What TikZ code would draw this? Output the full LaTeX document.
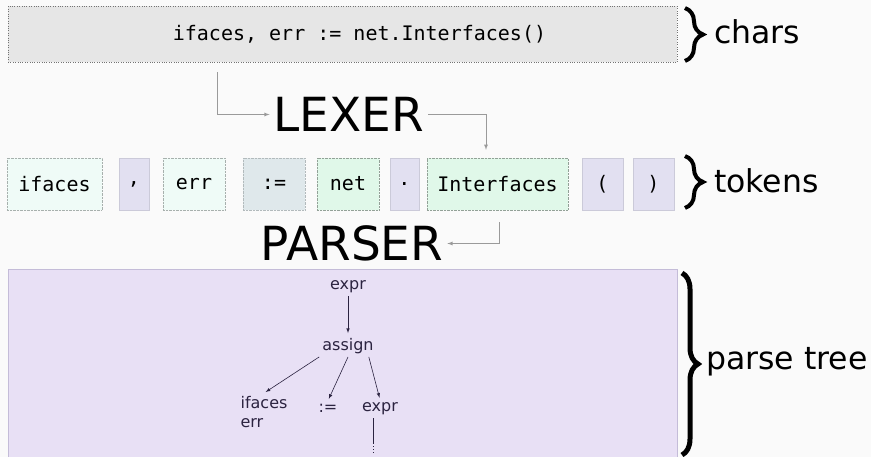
\documentclass[tikz,border=0pt]{standalone}
\usepackage{fontspec}
\setmainfont{DejaVu Sans}
\setmonofont{DejaVu Sans Mono}
\usetikzlibrary{decorations.pathreplacing}

\definecolor{bgcol}{HTML}{FAFAFA}
\definecolor{charfill}{HTML}{E6E6E6}
\definecolor{identfill}{HTML}{EFFBF7}
\definecolor{punctfill}{HTML}{E2E0F1}
\definecolor{opfill}{HTML}{DFE8EB}
\definecolor{namefill}{HTML}{E0F8E9}
\definecolor{treefill}{HTML}{E8E0F5}
\definecolor{treeedge}{HTML}{C4BCD8}
\definecolor{flowgray}{HTML}{9A9A9A}
\definecolor{leafink}{HTML}{2B2340}

\newcommand{\monofont}{\fontsize{20}{24}\selectfont\ttfamily}
\newcommand{\bigfont}{\fontsize{47}{52}\selectfont}
\newcommand{\sidefont}{\fontsize{31.5}{36}\selectfont}
\newcommand{\leaffont}{\fontsize{16}{19}\selectfont}

\newcommand{\drawtoken}{\node[rectangle,minimum height=52pt,inner sep=0pt,font=\monofont]}
\newcommand{\drawleaf}{\node[font=\leaffont,text=leafink,inner sep=3pt]}
\newcommand{\drawside}{\node[font=\sidefont,anchor=base west,inner sep=0pt]}

\begin{document}
\begin{tikzpicture}[x=1pt, y=-1pt, >=latex,
  identtok/.style={fill=identfill, draw=identfill!70!black, densely dotted},
  puncttok/.style={fill=punctfill, draw=punctfill!90!black},
  opertok/.style={fill=opfill, draw=opfill!80!black, densely dotted},
  nametok/.style={fill=namefill, draw=namefill!65!black, densely dotted},
  flow/.style={->, draw=flowgray, line width=0.8pt},
  link/.style={->, draw=leafink, line width=0.6pt, shorten >=2pt},
  curly/.style={decorate, decoration={brace, amplitude=#1}}]
\fill[bgcol] (0,0) rectangle (871,457);
\useasboundingbox (0,0) rectangle (871,457);

%characters
\node[fill=charfill, draw=black!55, dotted, minimum width=669pt, minimum height=56pt,
  inner sep=0pt, font=\monofont] (chars) at (342.5,34) {\hspace*{34pt}ifaces, err := net.Interfaces()};
\draw[curly=18pt, line width=4pt] (685,8) -- (685,61);
\drawside (charslabel) at (714,44) {chars};

%lexer
\node[font=\bigfont, inner sep=4pt] (lexer) at (349,114.5) {LEXER};
\draw[flow] ([xshift=-125.5pt,yshift=-10pt]chars.south) |- (lexer.west);

%tokens
\drawtoken[identtok, minimum width=95pt] (t1) at (54.5,184) {ifaces};
\drawtoken[puncttok, minimum width=30pt] (t2) at (134,184) {,};
\drawtoken[identtok, minimum width=62pt] (t3) at (194,184) {err};
\drawtoken[opertok, minimum width=62pt] (t4) at (274,184) {:=};
\drawtoken[nametok, minimum width=62pt] (t5) at (348,184) {net};
\drawtoken[puncttok, minimum width=29pt] (t6) at (404.5,184) {.};
\drawtoken[nametok, minimum width=141pt] (interfaces) at (497.5,184) {Interfaces};
\drawtoken[puncttok, minimum width=41pt] (t8) at (602.5,184) {(};
\drawtoken[puncttok, minimum width=41pt] (t9) at (653.5,184) {)};
\draw[curly=18pt, line width=4pt] (685,156) -- (685,208);
\drawside (tokenslabel) at (714,193) {tokens};
\draw[flow] (lexer.east) -| ([xshift=-11.5pt,yshift=8pt]interfaces.north);

%parser
\node[font=\bigfont, inner sep=4pt] (parser) at (352,243.5) {PARSER};
\draw[flow] ([xshift=1.5pt,yshift=-12pt]interfaces.south) |- (parser.east);

%parse tree
\node[fill=treefill, minimum width=669pt, minimum height=188pt, inner sep=0pt,
  anchor=north west] (treebox) at (8,269) {};
\draw[treeedge, line width=0.8pt] (treebox.south west) -- (treebox.north west)
  -- (treebox.north east) -- (treebox.south east);
\draw[curly=16pt, line width=5pt] (682,273) -- (682,455);
\drawside (treelabel) at (706,370) {parse tree};

\drawleaf (root) at (348,287) {expr};
\drawleaf (assign) at (348,346) {assign};
\drawleaf[align=left] (vars) at (264,412) {ifaces\\err};
\drawleaf (define) at (328,408) {:=};
\drawleaf (rhs) at (380,409) {expr};
\coordinate (more) at (373,443);
\coordinate (moredots) at (373,453);

\draw[link] (root) -- (assign);
\draw[link] (assign.south west) -- (vars.north);
\draw[link] (assign.south) -- (define.north);
\draw[link] ([xshift=-8pt]assign.south east) -- (rhs.north);
\draw[leafink, line width=0.6pt] ([xshift=-7pt]rhs.south) -- (more);
\draw[leafink, line width=1pt, dotted] (more) -- (moredots);
\end{tikzpicture}
\end{document}
